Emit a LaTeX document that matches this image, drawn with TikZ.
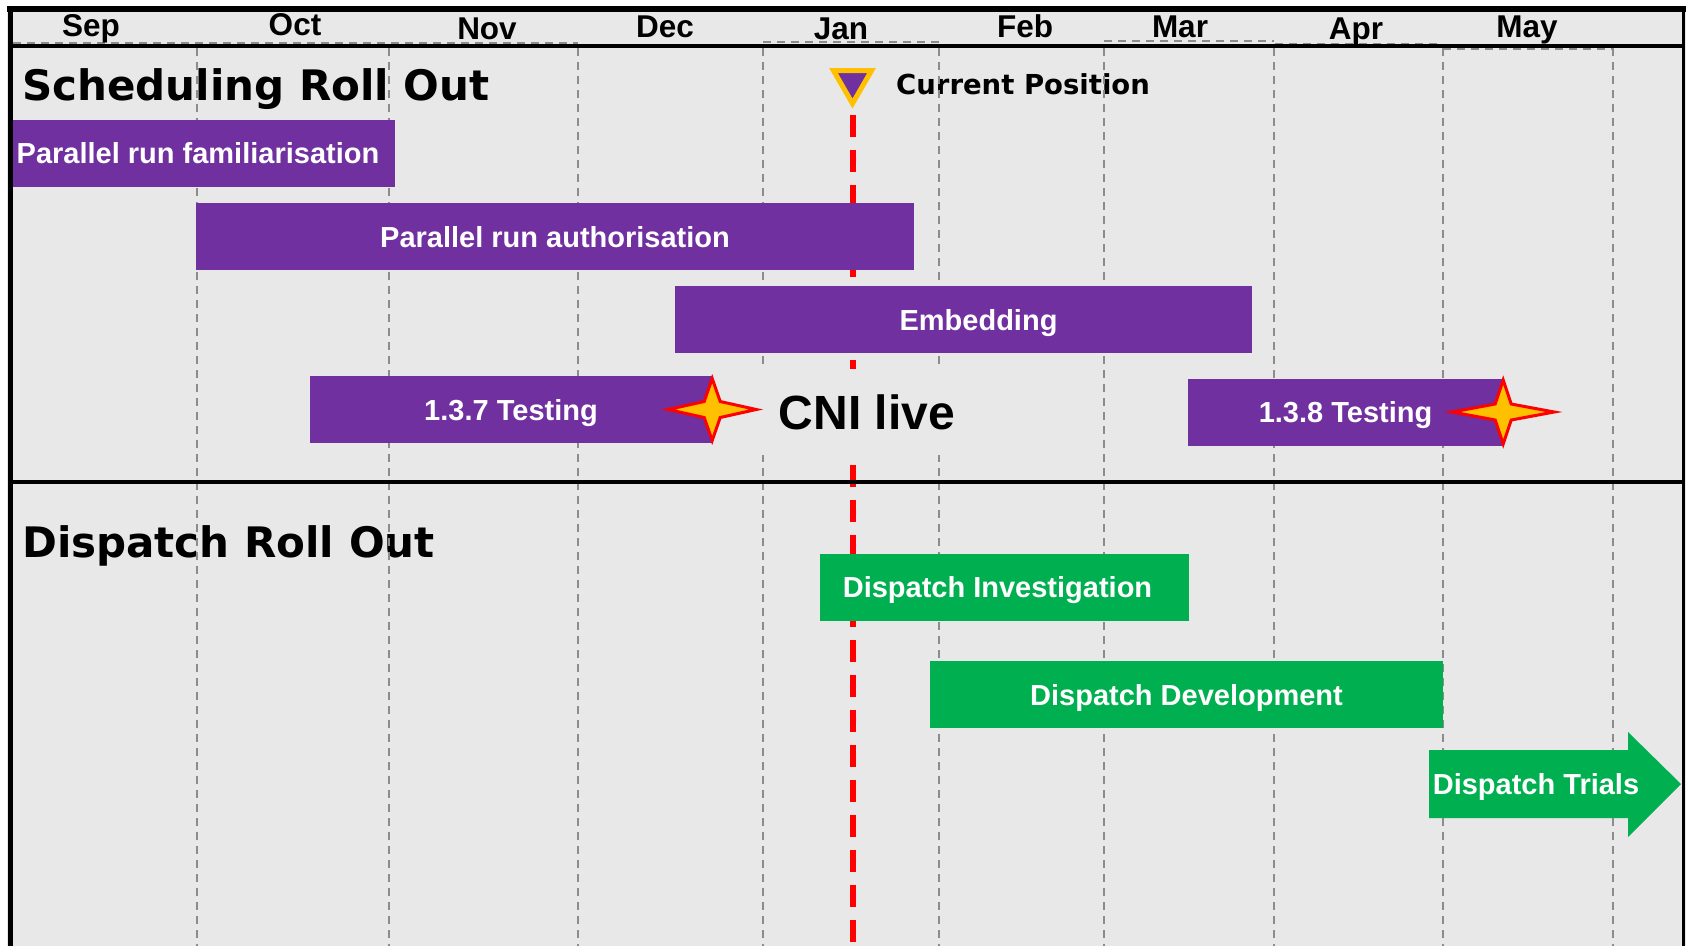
\documentclass[tikz,border=0pt]{standalone}
\usepackage{fontspec}
\setmainfont{Liberation Sans}
\newfontfamily\verdanafont{DejaVu Sans}
\usetikzlibrary{shapes.geometric}
\definecolor{planpurple}{HTML}{7030A0}
\definecolor{plangreen}{HTML}{00B050}
\definecolor{stargold}{HTML}{FFC000}
\definecolor{chartgrey}{HTML}{E8E8E8}
\definecolor{gridgrey}{HTML}{8C8C8C}
\tikzstyle{task} = [rectangle, fill=planpurple, text=white, font=\bfseries\fontsize{29}{34}\selectfont, text height=21pt, text depth=0pt, minimum height=67pt, inner sep=0pt]
\tikzstyle{dispatch} = [task, fill=plangreen]
\tikzstyle{month} = [anchor=base, inner sep=0pt, font=\bfseries\fontsize{31.5}{38}\selectfont]
\tikzstyle{heading} = [anchor=base west, inner sep=0pt, font=\verdanafont\bfseries\fontsize{42}{50}\selectfont]
\tikzstyle{gridline} = [draw=gridgrey, line width=2.5pt, dash pattern=on 8pt off 6pt]
\tikzstyle{border} = [draw=black, line width=5pt]
\tikzstyle{nowline} = [draw=red, line width=6pt, dash pattern=on 22pt off 13pt]
\tikzstyle{burst} = [draw=red, fill=stargold, line width=3pt]
\tikzstyle{nowmarker} = [regular polygon, regular polygon sides=3, shape border rotate=180, draw=stargold, fill=planpurple, line width=5pt, minimum size=44pt, inner sep=0pt]
\newcommand{\milestar}[3]{\path[burst] (#1) +(#2,0) -- +(8,8) -- +(0,#3) -- +(-8,8) -- +(-#2,0) -- +(-8,-8) -- +(0,-#3) -- +(8,-8) -- cycle;}

\begin{document}
\begin{tikzpicture}[x=1pt,y=-1pt]
\useasboundingbox (0,0) rectangle (1686,946);
\fill[chartgrey] (7,6) rectangle (1686,946);
\coordinate (floor) at (0,946);

\node[heading] (sched) at (22,100) {Scheduling Roll Out};
\node[heading] (disp) at (22,557) {Dispatch Roll Out};
\node[heading, font=\verdanafont\bfseries\fontsize{27.5}{33}\selectfont] (nowlabel) at (896,94) {Current Position};

\foreach \x in {197,389,578,763,939,1104,1274,1443,1613}
  \path[gridline] (\x,48) -- (\x,946);
\foreach \a/\b/\y in {13/578/42.5, 763/940/42, 1104/1274/41, 1275/1441/43.5, 1443/1612/49}
  \path[gridline, line width=2pt] (\a,\y) -- (\b,\y);

\node[nowmarker] (now) at (852.5,81.5) {};
\path[nowline] ([yshift=-6pt]now.south) -- (now.south |- floor);

\node[fill=chartgrey, font=\bfseries\fontsize{48}{56}\selectfont, text height=35pt, text depth=0pt, minimum width=215pt, minimum height=86pt, inner sep=0pt] (cni) at (867,412) {CNI live};

\node[task, minimum width=382pt] (familiar) at (204,153) {\hspace*{-12pt}Parallel run familiarisation};
\node[task, minimum width=718pt] (authorise) at (555,236.5) {Parallel run authorisation};
\node[task, minimum width=577pt] (embed) at (963.5,319.5) {\hspace*{30pt}Embedding};
\node[task, minimum width=402pt] (test137) at (511,409.5) {1.3.7 Testing};
\node[task, minimum width=315pt] (test138) at (1345.5,412) {1.3.8 Testing};
\milestar{test137.east}{44}{31}
\milestar{test138.east}{51}{32}

\node[dispatch, minimum width=369pt] (investigate) at (1004.5,587) {Dispatch Investigation\hspace*{14pt}};
\node[dispatch, minimum width=513pt] (develop) at (1186.5,694.5) {Dispatch Development};
\fill[plangreen] (1429,750) -- (1628,750) -- (1628,732) -- (1681,784) -- (1628,837) -- (1628,818) -- (1429,818) -- cycle;
\node[task, fill=none] (trials) at (1536,784) {Dispatch Trials};

\path[border, line width=6pt] (7,9) -- (1686,9);
\path[border] (10,6) -- (10,946);
\path[border, line width=4pt] (10,46) -- (1683,46);
\path[border, line width=4pt] (10,481.5) -- (1683,481.5);
\path[border, line width=3pt] (1683.5,6) -- (1683.5,946);

\foreach \m/\x/\y in {Sep/91/36, Oct/295/35, Nov/487/39, Dec/665/37, Jan/841/39, Feb/1025/37, Mar/1180/37, Apr/1356/39, May/1527/37}
  \node[month] (\m) at (\x,\y) {\m};
\end{tikzpicture}
\end{document}
